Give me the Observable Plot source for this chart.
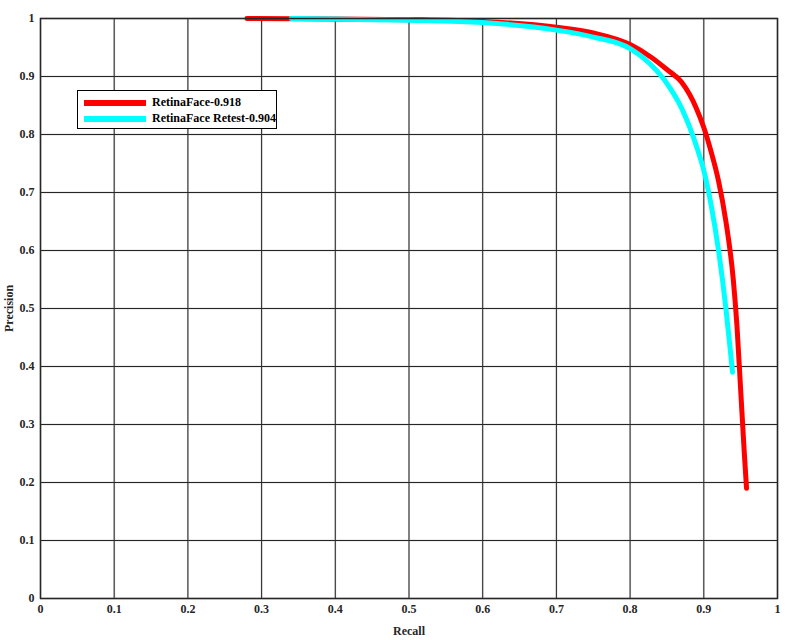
<!DOCTYPE html>
<html><head><meta charset="utf-8">
<script src="https://cdn.jsdelivr.net/npm/d3@7"></script>
<script src="https://cdn.jsdelivr.net/npm/@observablehq/plot@0.6"></script>
<style>
body{margin:0;background:#fff;font-family:"Liberation Serif",serif;}
#wrap{position:relative;width:795px;height:640px;}
#legend{position:absolute;left:77px;top:90px;width:198px;height:37px;border:1.5px solid #000;background:#fff;font:bold 12px "Liberation Serif",serif;}
.row{position:absolute;left:6px;display:flex;align-items:center;}
.sw{width:62px;height:6px;margin-right:6px;}
</style></head><body>
<div id="wrap"><div id="chart"></div>
<div id="legend">
<div class="row" style="top:4px"><div class="sw" style="background:#ff0000"></div>RetinaFace-0.918</div>
<div class="row" style="top:20px"><div class="sw" style="background:#00ffff"></div>RetinaFace Retest-0.904</div>
</div></div>
<script>
const redRecall=[0.28,0.4,0.5,0.6,0.7,0.75,0.8,0.83,0.85,0.87,0.89,0.9,0.91,0.92,0.93,0.94,0.945,0.95,0.955,0.958];
const redPrec=[1.0,0.999,0.998,0.995,0.985,0.975,0.955,0.932,0.912,0.89,0.845,0.812,0.77,0.72,0.65,0.55,0.47,0.36,0.25,0.19];
const cyanRecall=[0.34,0.4,0.5,0.6,0.7,0.75,0.8,0.83,0.85,0.87,0.89,0.9,0.91,0.92,0.93,0.935,0.939];
const cyanPrec=[1.0,0.999,0.997,0.993,0.98,0.968,0.948,0.918,0.888,0.845,0.78,0.738,0.678,0.6,0.5,0.44,0.39];
const ticks=[0,0.1,0.2,0.3,0.4,0.5,0.6,0.7,0.8,0.9,1];
const red=redRecall.map((r,i)=>({r,p:redPrec[i]}));
const cyan=cyanRecall.map((r,i)=>({r,p:cyanPrec[i]}));
const fmt=d=>String(+d.toFixed(1));
const chart=Plot.plot({
 width:795,height:640,marginLeft:40,marginRight:18,marginTop:18,marginBottom:42,
 style:{fontFamily:"Liberation Serif",fontWeight:"bold",fontSize:"12px",color:"#262626"},
 x:{domain:[0,1],ticks,tickFormat:fmt,label:"Recall",labelArrow:"none",labelAnchor:"center",labelOffset:36,tickSize:0,tickPadding:6},
 y:{domain:[0,1],ticks,tickFormat:fmt,label:"Precision",labelArrow:"none",labelAnchor:"center",labelOffset:36,tickSize:0,tickPadding:6},
 marks:[
  Plot.ruleX(ticks,{x:d=>d,stroke:"#dcdcdc",strokeWidth:2}),
  Plot.ruleY(ticks,{y:d=>d,stroke:"#dcdcdc",strokeWidth:2}),
  Plot.tickX(ticks,{x:d=>d,y1:0,y2:0.012,stroke:"#262626"}),
  Plot.tickY(ticks,{y:d=>d,x1:0,x2:0.009,stroke:"#262626"}),
  Plot.line(red,{x:"r",y:"p",stroke:"#ff0000",strokeWidth:5,curve:"monotone-x"}),
  Plot.line(cyan,{x:"r",y:"p",stroke:"#00ffff",strokeWidth:5,curve:"monotone-x"}),
  Plot.frame({stroke:"#262626",strokeWidth:1.5})
 ]
});
document.getElementById("chart").append(chart);
</script></body></html>
